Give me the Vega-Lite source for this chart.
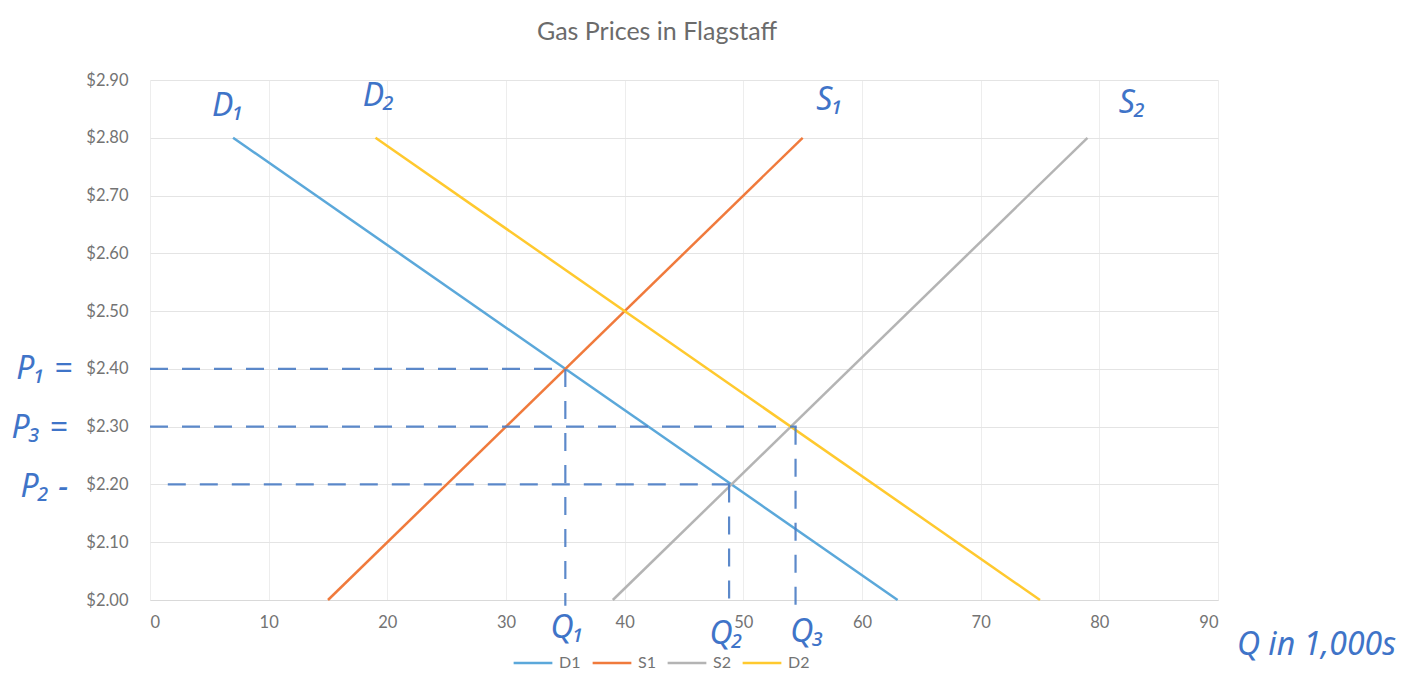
{
  "$schema": "https://vega.github.io/schema/vega-lite/v6.json",
  "width": 1068,
  "height": 520,
  "autosize": {"type": "none"},
  "padding": {"left": 150, "top": 80, "right": 208, "bottom": 96},
  "background": "white",
  "title": {
    "text": "Gas Prices in Flagstaff",
    "font": "Lato",
    "fontSize": 25,
    "fontWeight": "normal",
    "color": "#6b6b6b",
    "anchor": "middle",
    "dx": -27,
    "offset": 27
  },
  "config": {
    "view": {"stroke": null},
    "axis": {"labelFont": "Lato", "labelColor": "#737373", "labelFontSize": 16.5, "gridColor": "#E4E4E4", "gridWidth": 1, "ticks": false, "title": null}
  },
  "datasets": {
    "curves": [
      {"series": "D1", "q": 7, "p": 2.80},
      {"series": "D1", "q": 63, "p": 2.00},
      {"series": "S1", "q": 15, "p": 2.00},
      {"series": "S1", "q": 55, "p": 2.80},
      {"series": "S2", "q": 39, "p": 2.00},
      {"series": "S2", "q": 79, "p": 2.80},
      {"series": "D2", "q": 19, "p": 2.80},
      {"series": "D2", "q": 75, "p": 2.00}
    ],
    "dashes": [
      {"q": 0, "q2": 35, "p": 2.40, "p2": 2.40},
      {"q": 0, "q2": 54.5, "p": 2.30, "p2": 2.30},
      {"q": 1.5, "q2": 49, "p": 2.20, "p2": 2.20},
      {"q": 35, "q2": 35, "p": 2.40, "p2": 1.99},
      {"q": 48.8, "q2": 48.8, "p": 2.20, "p2": 2.00},
      {"q": 54.4, "q2": 54.4, "p": 2.30, "p2": 1.99}
    ],
    "notes": [
      {"label": "D₁", "q": 6.6, "p": 2.855},
      {"label": "D₂", "q": 19.3, "p": 2.872},
      {"label": "S₁", "q": 57.3, "p": 2.865},
      {"label": "S₂", "q": 82.8, "p": 2.86},
      {"label": "P₁ =", "q": -8.9, "p": 2.40},
      {"label": "P₃ =", "q": -9.3, "p": 2.298},
      {"label": "P₂ -", "q": -8.9, "p": 2.195},
      {"label": "Q₁", "q": 35.2, "p": 1.952},
      {"label": "Q₂", "q": 48.6, "p": 1.941},
      {"label": "Q₃", "q": 55.4, "p": 1.945},
      {"label": "Q in 1,000s", "q": 98.3, "p": 1.922}
    ]
  },
  "layer": [
    {
      "data": {"name": "curves"},
      "mark": {"type": "line", "strokeWidth": 2.5},
      "encoding": {
        "x": {"field": "q", "type": "quantitative", "scale": {"domain": [0, 90], "nice": false, "zero": false},
          "axis": {"values": [0,10,20,30,40,50,60,70,80,90], "domain": true, "domainColor": "#D9D9D9", "labelPadding": 14, "gridColor": "#EDEDED"}},
        "y": {"field": "p", "type": "quantitative", "scale": {"domain": [2.0, 2.9], "nice": false, "zero": false},
          "axis": {"values": [2.0,2.1,2.2,2.3,2.4,2.5,2.6,2.7,2.8,2.9], "format": "$.2f", "domain": false, "labelPadding": 22}},
        "color": {"field": "series", "type": "nominal",
          "scale": {"domain": ["D1", "S1", "S2", "D2"], "range": ["#5BA8DA", "#F07A3C", "#B4B4B4", "#FFC92E"]},
          "sort": ["D1", "S1", "S2", "D2"],
          "legend": {"title": null, "orient": "none", "direction": "horizontal", "legendX": 362, "legendY": 562,
            "symbolType": "stroke", "symbolSize": 1500, "symbolStrokeWidth": 2.5, "labelFont": "Lato", "labelFontSize": 16, "labelColor": "#737373", "columnPadding": 6, "labelOffset": 5}},
        "detail": {"field": "series"}
      }
    },
    {
      "data": {"name": "dashes"},
      "mark": {"type": "rule", "color": "#4A7CC4", "strokeWidth": 2.2, "strokeDash": [18, 14], "opacity": 0.9},
      "encoding": {
        "x": {"field": "q", "type": "quantitative"},
        "x2": {"field": "q2"},
        "y": {"field": "p", "type": "quantitative"},
        "y2": {"field": "p2"}
      }
    },
    {
      "data": {"name": "notes"},
      "mark": {"type": "text", "font": "Noto Sans", "fontStyle": "italic", "fontSize": 32, "color": "#3F74C8", "align": "center", "baseline": "middle"},
      "encoding": {
        "x": {"field": "q", "type": "quantitative"},
        "y": {"field": "p", "type": "quantitative"},
        "text": {"field": "label"}
      }
    }
  ]
}
